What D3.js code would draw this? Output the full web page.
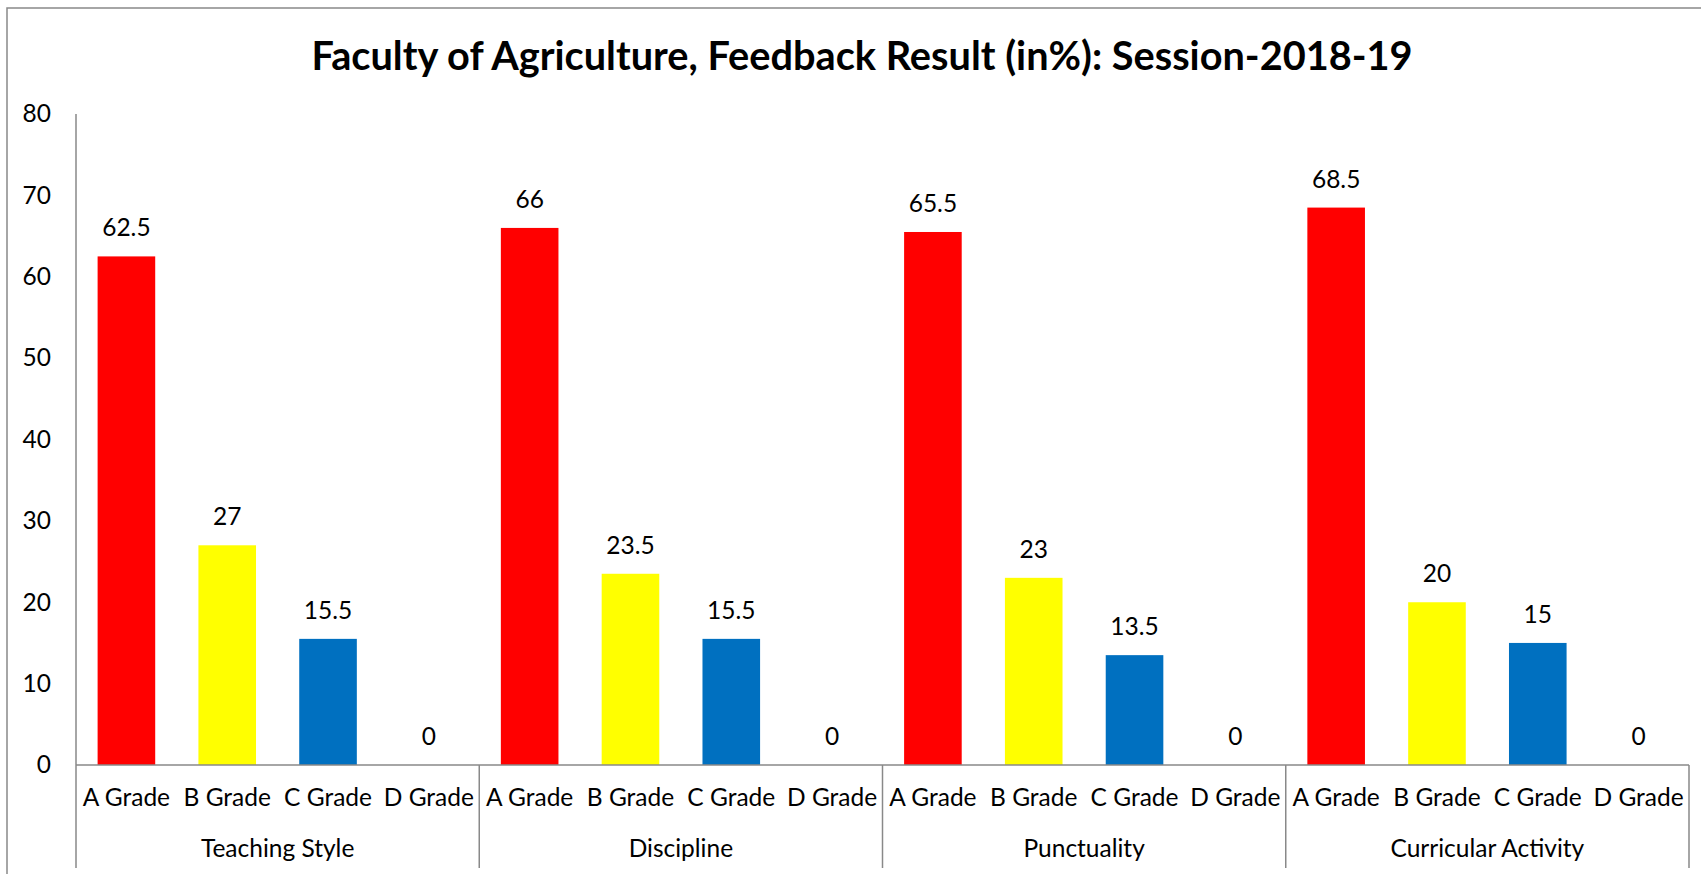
<!DOCTYPE html>
<html>
<head>
<meta charset="utf-8">
<script src="https://cdn.jsdelivr.net/npm/d3@7"></script>
<style>
    body { margin: 0; background: #fff; }
    text { font-family: Lato, "Noto Sans", sans-serif; fill: #000; }
</style>
</head>
<body>
<div id="chart"></div>
<script>
var chartTitle = "Faculty of Agriculture, Feedback Result (in%): Session-2018-19";
var groups = ["Teaching Style", "Discipline", "Punctuality", "Curricular Activity"];
var grades = ["A Grade", "B Grade", "C Grade", "D Grade"];
var aGrade = [62.5, 66, 65.5, 68.5];
var bGrade = [27, 23.5, 23, 20];
var cGrade = [15.5, 15.5, 13.5, 15];
var dGrade = [0, 0, 0, 0];
var yTicks = [0, 10, 20, 30, 40, 50, 60, 70, 80];
var gradeColors = ["#ff0000", "#ffff00", "#0070c0", "#7f7f7f"];

(function () {
    var width = 1701, height = 874;
    var margin = { left: 76, right: 12, top: 114, bottom: 109 };
    var lineColor = "#898989";
    var labelSize = "24.5px";

    var series = [aGrade, bGrade, cGrade, dGrade];
    var rows = [];
    groups.forEach(function (g, gi) {
        grades.forEach(function (gr, ri) {
            rows.push({ group: g, grade: gr, value: series[ri][gi], idx: ri });
        });
    });

    var svg = d3.select("#chart").append("svg")
        .attr("width", width)
        .attr("height", height);

    // outer chart border (runs off the right and bottom edges)
    svg.append("rect")
        .attr("x", 7).attr("y", 8)
        .attr("width", width + 20).attr("height", height + 20)
        .attr("fill", "none")
        .attr("stroke", lineColor)
        .attr("stroke-width", 1.5);

    svg.append("text")
        .attr("x", 862)
        .attr("y", 70)
        .attr("text-anchor", "middle")
        .attr("font-size", "39.7px")
        .attr("font-weight", "bold")
        .text(chartTitle);

    var x0 = d3.scaleBand()
        .domain(groups)
        .range([margin.left, width - margin.right])
        .paddingInner(0).paddingOuter(0);

    var x1 = d3.scaleBand()
        .domain(grades)
        .range([0, x0.bandwidth()])
        .paddingInner(0.4286)
        .paddingOuter(0.2143);

    var y = d3.scaleLinear()
        .domain([0, 80])
        .range([height - margin.bottom, margin.top]);

    var bottomY = 868;

    // y axis labels
    var yAxis = svg.append("g")
        .attr("transform", "translate(" + margin.left + ",0)")
        .call(d3.axisLeft(y).tickValues(yTicks).tickSize(0).tickPadding(25));
    yAxis.select(".domain").remove();
    yAxis.selectAll("text")
        .attr("font-size", labelSize)
        .attr("font-family", "Lato, 'Noto Sans', sans-serif")
        .attr("fill", "#000");

    // bars
    var g = svg.append("g");
    g.selectAll("rect.bar")
        .data(rows)
        .enter().append("rect")
        .attr("class", "bar")
        .attr("x", function (d) { return x0(d.group) + x1(d.grade); })
        .attr("y", function (d) { return y(d.value); })
        .attr("width", x1.bandwidth())
        .attr("height", function (d) { return y(0) - y(d.value); })
        .attr("fill", function (d) { return gradeColors[d.idx]; });

    g.selectAll("text.val")
        .data(rows)
        .enter().append("text")
        .attr("class", "val")
        .attr("x", function (d) { return x0(d.group) + x1(d.grade) + x1.bandwidth() / 2; })
        .attr("y", function (d) { return y(d.value) - 20; })
        .attr("text-anchor", "middle")
        .attr("font-size", labelSize)
        .text(function (d) { return d.value; });

    // axis lines
    svg.append("line")
        .attr("x1", margin.left).attr("x2", margin.left)
        .attr("y1", y(80)).attr("y2", bottomY)
        .attr("stroke", lineColor).attr("stroke-width", 1.5);
    svg.append("line")
        .attr("x1", margin.left).attr("x2", width - margin.right)
        .attr("y1", y(0)).attr("y2", y(0))
        .attr("stroke", lineColor).attr("stroke-width", 1.5);

    // group separators
    svg.selectAll("line.sep")
        .data(groups)
        .enter().append("line")
        .attr("class", "sep")
        .attr("x1", function (d) { return x0(d) + x0.bandwidth(); })
        .attr("x2", function (d) { return x0(d) + x0.bandwidth(); })
        .attr("y1", y(0)).attr("y2", bottomY)
        .attr("stroke", lineColor).attr("stroke-width", 1.5);

    // grade labels
    svg.selectAll("text.grade")
        .data(rows)
        .enter().append("text")
        .attr("class", "grade")
        .attr("x", function (d) { return x0(d.group) + x1(d.grade) + x1.bandwidth() / 2; })
        .attr("y", 806)
        .attr("text-anchor", "middle")
        .attr("font-size", labelSize)
        .text(function (d) { return d.grade; });

    // group labels
    svg.selectAll("text.group")
        .data(groups)
        .enter().append("text")
        .attr("class", "group")
        .attr("x", function (d) { return x0(d) + x0.bandwidth() / 2; })
        .attr("y", 857)
        .attr("text-anchor", "middle")
        .attr("font-size", labelSize)
        .text(function (d) { return d; });
}());
</script>
</body>
</html>
